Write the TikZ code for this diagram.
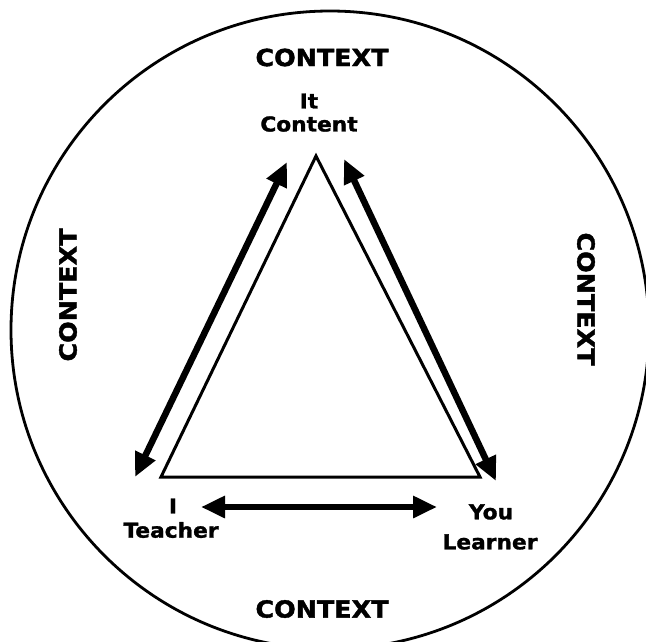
\documentclass[tikz,border=0pt]{standalone}
\usepackage{fontspec}
\usetikzlibrary{arrows.meta}
\newfontfamily\ctxfont{DejaVu Sans Bold}[FakeStretch=1.08,FakeBold=1.6]
\newfontfamily\lblfont{DejaVu Sans Bold}[FakeStretch=1.06,FakeBold=1.4]
\tikzset{
  ctx/.style={font=\ctxfont\fontsize{23.5}{26}\selectfont, inner sep=0pt},
  lbl/.style={font=\lblfont\fontsize{20.5}{23}\selectfont, inner sep=0pt},
  side/.style={line width=3pt, line join=miter},
  dbl/.style={line width=6.5pt, {Triangle[length=24pt,width=21pt]}-{Triangle[length=24pt,width=21pt]}}
}
\begin{document}
\begin{tikzpicture}[x=1pt,y=-1pt]
\useasboundingbox (0,0) rectangle (646,641);
\clip (0,0) rectangle (646,641);
\fill[white] (0,0) rectangle (646,641);
% outer circle
\node[draw, circle, line width=2.8pt, minimum size=638pt, inner sep=0pt] (outer) at (330,330) {};
% triangle corners
\coordinate (A) at (316,156);
\coordinate (B) at (161,477);
\coordinate (C) at (480,477);
\draw[side] (A) -- (B) -- (C) -- cycle;
% arrow ends
\coordinate (l1) at (135,477);
\coordinate (l2) at (287,162);
\coordinate (r1) at (344,159);
\coordinate (r2) at (496,481);
\coordinate (b1) at (201,507);
\coordinate (b2) at (437,507);
\draw[dbl] (l1) -- (l2);
\draw[dbl] (r1) -- (r2);
\draw[dbl] (b1) -- (b2);
% labels
\node[ctx] (ctop) at (322,57.5) {CONTEXT};
\node[ctx] (cbot) at (322,609) {CONTEXT};
\node[ctx, rotate=90] (cleft) at (68,295) {CONTEXT};
\node[ctx, rotate=-90] (cright) at (586,299) {CONTEXT};
\node[lbl] (it) at (309,101) {It};
\node[lbl] (content) at (309,124) {Content};
\node[lbl] (i) at (173,506) {I};
\node[lbl] (teacher) at (171,530) {Teacher};
\node[lbl] (you) at (491,512) {You};
\node[lbl] (learner) at (490,542) {Learner};
\end{tikzpicture}
\end{document}
